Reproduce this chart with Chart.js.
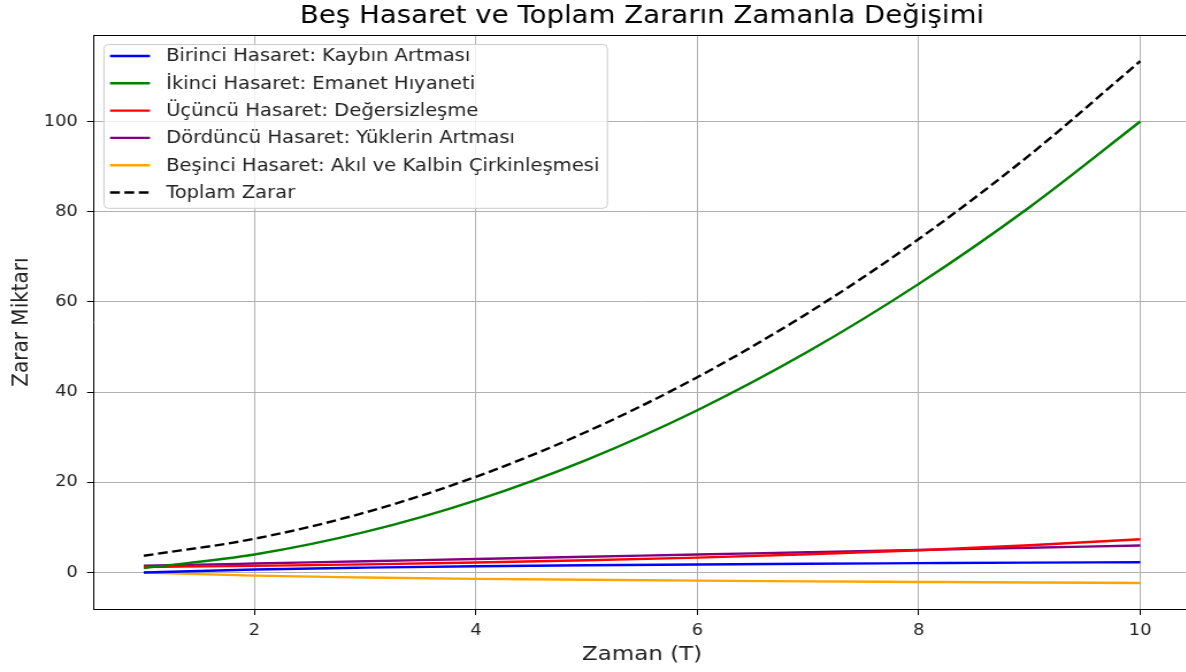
<!DOCTYPE html>
<html>
<head>
<meta charset="utf-8">
<script src="https://cdn.jsdelivr.net/npm/chart.js@4.4.0/dist/chart.umd.min.js"></script>
<style>
html, body { margin: 0; padding: 0; background: #fff; overflow: hidden; }
#wrap { width: 1196px; height: 672px; }
</style>
</head>
<body>
<!-- the reference is a bit wider than tall in its lettering, so the canvas is stretched sideways -->
<div id="wrap"><canvas id="chart" width="1040" height="672" style="width:1196px;height:672px"></canvas></div>
<script>
// values, one per T = 1..10
const zaman = [1, 2, 3, 4, 5, 6, 7, 8, 9, 10];
const birinci = [0, 0.69, 1.10, 1.39, 1.61, 1.79, 1.95, 2.08, 2.20, 2.30];
const ikinci = [1, 4, 9, 16, 25, 36, 49, 64, 81, 100];
const ucuncu = [1.22, 1.49, 1.82, 2.23, 2.72, 3.32, 4.06, 4.95, 6.05, 7.39];
const dorduncu = [1.5, 2, 2.5, 3, 3.5, 4, 4.5, 5, 5.5, 6];
const besinci = [0, -0.69, -1.10, -1.39, -1.61, -1.79, -1.95, -2.08, -2.20, -2.30];
const toplam = [3.72, 7.49, 13.32, 21.23, 31.22, 43.32, 57.56, 73.95, 92.55, 113.39];

const xTicks = [2, 4, 6, 8, 10];
const yTicks = [0, 20, 40, 60, 80, 100];

const TITLE = 'Beş Hasaret ve Toplam Zararın Zamanla Değişimi';
const FONT = "'DejaVu Sans', sans-serif";

function pts(ys) {
    return zaman.map((t, i) => ({ x: t, y: ys[i] }));
}

function line(label, ys, color, dash) {
    return {
        label: label,
        data: pts(ys),
        borderColor: color,
        backgroundColor: color,
        borderWidth: 2.4,
        borderDash: dash || [],
        pointRadius: 0,
        cubicInterpolationMode: 'monotone',
        fill: false
    };
}

// matplotlib style legend inside the plot, top left
const boxLegend = {
    id: 'boxLegend',
    afterDatasetsDraw(chart) {
        const ctx = chart.ctx;
        const area = chart.chartArea;
        const sets = chart.data.datasets;
        ctx.save();
        ctx.font = '17px ' + FONT;
        let maxW = 0;
        sets.forEach(d => { maxW = Math.max(maxW, ctx.measureText(d.label).width); });
        const x0 = area.left + 8.7, y0 = area.top + 9;
        const rowH = 27.3;
        const w = 54 + maxW + 7, h = rowH * sets.length;
        ctx.beginPath();
        ctx.roundRect(x0, y0 + 0.5, w, h, 4);
        ctx.fillStyle = 'rgba(255,255,255,0.8)';
        ctx.fill();
        ctx.strokeStyle = '#cccccc';
        ctx.lineWidth = 1;
        ctx.stroke();
        sets.forEach((d, i) => {
            const cy = y0 + 12 + i * rowH;
            ctx.beginPath();
            ctx.setLineDash(d.borderDash || []);
            ctx.strokeStyle = d.borderColor;
            ctx.lineWidth = 2.4;
            ctx.moveTo(x0 + 5.3, cy);
            ctx.lineTo(x0 + 40, cy);
            ctx.stroke();
            ctx.setLineDash([]);
            ctx.fillStyle = '#222';
            ctx.textBaseline = 'middle';
            ctx.fillText(d.label, x0 + 54, cy + 1);
        });
        ctx.restore();
    }
};

// top border and a title centred over the plot area, as matplotlib does
const frame = {
    id: 'frame',
    afterDraw(chart) {
        const ctx = chart.ctx, a = chart.chartArea;
        ctx.save();
        ctx.strokeStyle = '#000';
        ctx.lineWidth = 1;
        ctx.beginPath();
        ctx.moveTo(a.left, a.top + 0.5);
        ctx.lineTo(a.right, a.top + 0.5);
        ctx.lineTo(a.right, a.bottom);
        ctx.stroke();
        ctx.font = '24px ' + FONT;
        ctx.fillStyle = '#000';
        ctx.textAlign = 'center';
        ctx.textBaseline = 'middle';
        ctx.fillText(TITLE, (a.left + a.right) / 2, 16.5);
        ctx.restore();
    }
};

new Chart(document.getElementById('chart'), {
    type: 'line',
    data: {
        datasets: [
            line('Birinci Hasaret: Kaybın Artması', birinci, '#0000ff'),
            line('İkinci Hasaret: Emanet Hıyaneti', ikinci, '#008000'),
            line('Üçüncü Hasaret: Değersizleşme', ucuncu, '#ff0000'),
            line('Dördüncü Hasaret: Yüklerin Artması', dorduncu, '#800080'),
            line('Beşinci Hasaret: Akıl ve Kalbin Çirkinleşmesi', besinci, '#ffa500'),
            line('Toplam Zarar', toplam, '#000000', [8.5, 4])
        ]
    },
    options: {
        responsive: false,
        animation: false,
        devicePixelRatio: 1,
        layout: { padding: { left: 0, right: 5.2, top: 35, bottom: 0 } },
        plugins: {
            legend: { display: false },
            tooltip: { enabled: false },
            title: { display: false }
        },
        scales: {
            x: {
                type: 'linear',
                min: 0.55,
                max: 10.45,
                afterBuildTicks: s => { s.ticks = xTicks.map(v => ({ value: v })); },
                afterFit: s => { s.height = 63; },
                grid: { color: '#b0b0b0', lineWidth: 1, tickColor: '#000', tickLength: 6 },
                border: { color: '#000', width: 1 },
                ticks: { color: '#222', font: { family: FONT, size: 15.5 }, padding: 6.5, maxRotation: 0 },
                title: {
                    display: true, text: 'Zaman (T)', color: '#222',
                    font: { family: FONT, size: 20 }, padding: { top: 0, bottom: 5 }
                }
            },
            y: {
                min: -8.08,
                max: 119.18,
                afterBuildTicks: s => { s.ticks = yTicks.map(v => ({ value: v })); },
                afterFit: s => { s.width = 81.7; },
                grid: { color: '#b0b0b0', lineWidth: 1, tickColor: '#000', tickLength: 6 },
                border: { color: '#000', width: 1 },
                ticks: { color: '#222', font: { family: FONT, size: 15.5 }, padding: 8 },
                title: {
                    display: true, text: 'Zarar Miktarı', color: '#222',
                    font: { family: FONT, size: 20 }, padding: { top: 7, bottom: 0 }
                }
            }
        }
    },
    plugins: [boxLegend, frame]
});
</script>
</body>
</html>
